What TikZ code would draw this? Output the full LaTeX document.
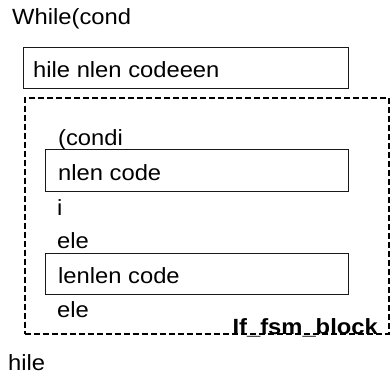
\documentclass[tikz,border=0pt]{standalone}
\usepackage{fontspec}
\setmainfont{Liberation Sans}
\newcommand{\tx}[1]{\scalebox{1.08}[1]{#1}}
\begin{document}
\begin{tikzpicture}[x=1pt,y=-1pt,
  lbl/.style={anchor=base west,inner sep=0pt,font=\fontsize{22}{26}\selectfont},
  boldlbl/.style={anchor=base east,inner sep=0pt,font=\fontsize{22}{26}\selectfont\bfseries},
  codebox/.style={draw=black!90,line width=1.3pt,anchor=north west,inner sep=0pt},
  fsmbox/.style={draw=black,line width=1.5pt,dash pattern=on 6pt off 3pt,anchor=north west,inner sep=0pt}]
\useasboundingbox (0,0) rectangle (390,376);
\node[lbl] (t0) at (12,24) {\tx{While(cond}};
\node[codebox,minimum width=325pt,minimum height=41pt] (b1) at (23,47) {};
\node[lbl] (t1) at (33,77) {\tx{hile nlen codeeen}};
\node[fsmbox,minimum width=364pt,minimum height=236pt] (fsm) at (24,97) {};
\node[lbl] (t2) at (58,145) {\tx{(condi}};
\node[codebox,minimum width=303pt,minimum height=42pt] (b2) at (45,149) {};
\node[lbl] (t3) at (58,180) {\tx{nlen code}};
\node[lbl] (t4) at (57,215) {\tx{i}};
\node[lbl] (t5) at (57,248) {\tx{ele}};
\node[codebox,minimum width=303pt,minimum height=41pt] (b3) at (45,253) {};
\node[lbl] (t6) at (58,283) {\tx{lenlen code}};
\node[lbl] (t7) at (57,317) {\tx{ele}};
\node[boldlbl] (t8) at (378,334) {\tx{If\_fsm\_block}};
\node[lbl] (t9) at (8,370) {\tx{hile}};
\end{tikzpicture}
\end{document}
